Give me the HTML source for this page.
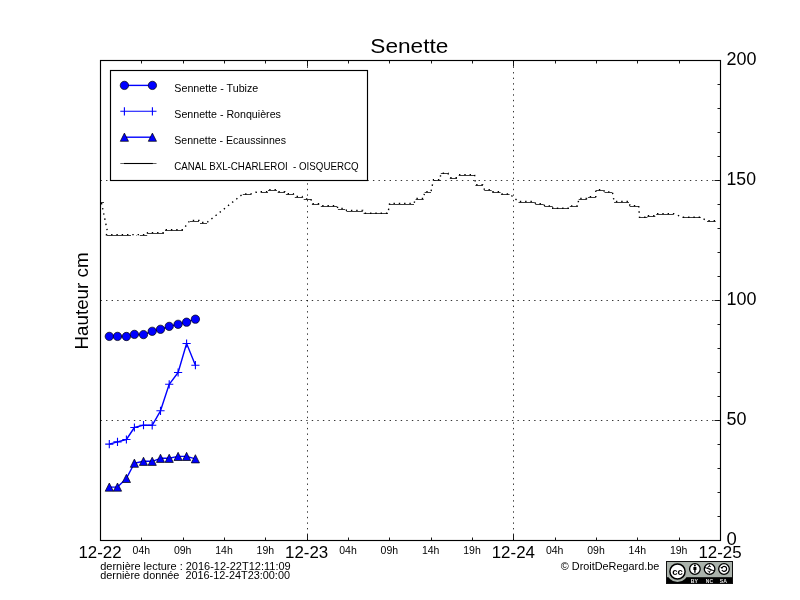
<!DOCTYPE html>
<html><head><meta charset="utf-8"><style>
html,body{margin:0;padding:0;background:#fff;width:800px;height:600px;overflow:hidden}
svg{display:block;will-change:transform}
text{font-family:"Liberation Sans", sans-serif}
</style></head><body>
<svg width="800" height="600" viewBox="0 0 800 600">
<rect width="800" height="600" fill="#fff"/>
<path d="M100.5,420.5H720.5 M100.5,300.5H720.5 M100.5,180.5H720.5 M307.5,540.5V60.5 M513.5,540.5V60.5" stroke="#000" stroke-width="0.8" stroke-dasharray="1.39 4.17" fill="none"/>
<path d="M100.5,540.5v-6 M100.5,60.5v6 M141.5,540.5v-3 M141.5,60.5v3 M183.5,540.5v-3 M183.5,60.5v3 M224.5,540.5v-3 M224.5,60.5v3 M265.5,540.5v-3 M265.5,60.5v3 M307.5,540.5v-6 M307.5,60.5v6 M348.5,540.5v-3 M348.5,60.5v3 M389.5,540.5v-3 M389.5,60.5v3 M431.5,540.5v-3 M431.5,60.5v3 M472.5,540.5v-3 M472.5,60.5v3 M513.5,540.5v-6 M513.5,60.5v6 M555.5,540.5v-3 M555.5,60.5v3 M596.5,540.5v-3 M596.5,60.5v3 M637.5,540.5v-3 M637.5,60.5v3 M679.5,540.5v-3 M679.5,60.5v3 M720.5,540.5v-6 M720.5,60.5v6 M720.5,540.5h-6 M720.5,516.5h-3 M720.5,492.5h-3 M720.5,468.5h-3 M720.5,444.5h-3 M720.5,420.5h-6 M720.5,396.5h-3 M720.5,372.5h-3 M720.5,348.5h-3 M720.5,324.5h-3 M720.5,300.5h-6 M720.5,276.5h-3 M720.5,252.5h-3 M720.5,228.5h-3 M720.5,204.5h-3 M720.5,180.5h-6 M720.5,156.5h-3 M720.5,132.5h-3 M720.5,108.5h-3 M720.5,84.5h-3 M720.5,60.5h-6" stroke="#000" stroke-width="0.9" fill="none"/>
<path d="M100,202.5H104 M106.5,235.5H131 M136,235.5H136.5 M139.8,235.5H147.2 M147.5,233.5H164 M165,230.5H183 M190,221.5H199 M200,223.5H207 M242.8,194.5H250.9 M256,192.5H257 M260.7,192.5H268 M268,190.5H277 M277.7,192.5H285 M285.9,194.5H293.2 M294.8,197.5H302 M303.7,199.5H311 M311.9,204.5H319.2 M320.8,206.5H337 M337.9,209.5H345.2 M346.5,211.5H362.8 M363.6,213.5H388 M389.6,204.5H414 M415.6,199.5H423.7 M424.6,192.5H431 M433.5,180.5H440 M440.8,173.5H448 M449.8,178.5H457 M458.7,175.5H474.6 M475.4,185.5H482.8 M484.4,190.5H491.7 M492.5,192.5H500.6 M501.5,194.5H509.6 M518.5,202.5H534.8 M535.6,204.5H543.7 M544.6,206.5H552.7 M552.7,208.5H569 M569.8,206.5H577.9 M578.7,199.5H586.8 M587.9,197.5H595.8 M595.8,190.5H603.6 M604.5,192.5H612.4 M614.1,202.5H629 M629.9,206.5H638.7 M639.5,217.5H647.4 M647.4,216.5H655.3 M656.2,214.5H673.7 M682.5,217.5H700.8 M707,221.5H715.7" stroke="#000" stroke-width="0.9" fill="none" stroke-opacity="0.85"/>
<path d="M101.5,203.5 L107.5,232.5 L106.5,235.2 L131.0,235.2 L136.0,235.2 L136.5,235.2 L139.8,235.2 L147.2,235.2 L147.5,233.2 L164.0,233.2 L165.0,230.3 L183.0,230.3 L190.0,221.0 L199.0,221.0 L200.0,223.1 L207.0,223.1 L242.8,194.6 L250.9,194.6 L256.0,192.7 L257.0,192.7 L260.7,192.2 L268.0,192.2 L268.0,190.2 L277.0,190.2 L277.7,192.2 L285.0,192.2 L285.9,194.3 L293.2,194.3 L294.8,197.1 L302.0,197.1 L303.7,199.5 L311.0,199.5 L311.9,204.4 L319.2,204.4 L320.8,206.3 L337.0,206.3 L337.9,209.1 L345.2,209.1 L346.5,211.0 L362.8,211.0 L363.6,213.8 L388.0,213.8 L389.6,204.0 L414.0,204.0 L415.6,199.1 L423.7,199.1 L424.6,192.2 L431.0,192.2 L433.5,180.4 L440.0,180.4 L440.8,173.8 L448.0,173.8 L449.8,178.3 L457.0,178.3 L458.7,175.2 L474.6,175.2 L475.4,185.3 L482.8,185.3 L484.4,190.2 L491.7,190.2 L492.5,192.3 L500.6,192.3 L501.5,194.6 L509.6,194.6 L518.5,202.1 L534.8,202.1 L535.6,204.3 L543.7,204.3 L544.6,206.5 L552.7,206.5 L552.7,208.9 L569.0,208.9 L569.8,206.5 L577.9,206.5 L578.7,199.1 L586.8,199.1 L587.9,197.2 L595.8,197.2 L595.8,190.4 L603.6,190.4 L604.5,192.5 L612.4,192.5 L614.1,202.1 L629.0,202.1 L629.9,206.2 L638.7,206.2 L639.5,217.9 L647.4,217.9 L647.4,216.3 L655.3,216.3 L656.2,214.2 L673.7,214.2 L682.5,217.9 L700.8,217.9 L707.0,221.4 L715.7,221.4" stroke="#000" stroke-width="1.4" fill="none" stroke-dasharray="1.4 3.9" transform="translate(0,-0.6)"/>
<path d="M109.3,336.4 L117.5,336.4 L126.4,336.5 L134.4,334.4 L143.5,334.6 L152.2,331.3 L160.5,329.3 L169.2,326.4 L178.1,324.3 L186.6,322.2 L195.4,319.2" stroke="#0000ff" stroke-width="1.39" fill="none" stroke-linejoin="round"/>
<path d="M109.3,444.1 L117.5,441.9 L126.4,439.5 L134.4,427.5 L143.5,425.2 L152.2,425.3 L160.5,410.8 L169.2,384.3 L178.1,372.5 L186.6,343.5 L195.4,365.2" stroke="#0000ff" stroke-width="1.39" fill="none" stroke-linejoin="round"/>
<path d="M109.3,487.1 L117.5,487.1 L126.4,478.4 L134.4,463.2 L143.5,461.3 L152.2,461.3 L160.5,458.3 L169.2,458.3 L178.1,456.4 L186.6,456.4 L195.4,458.8" stroke="#0000ff" stroke-width="1.39" fill="none" stroke-linejoin="round"/>
<circle cx="109.3" cy="336.4" r="4.17" fill="#0000ff" stroke="#000" stroke-width="0.7"/>
<circle cx="117.5" cy="336.4" r="4.17" fill="#0000ff" stroke="#000" stroke-width="0.7"/>
<circle cx="126.4" cy="336.5" r="4.17" fill="#0000ff" stroke="#000" stroke-width="0.7"/>
<circle cx="134.4" cy="334.4" r="4.17" fill="#0000ff" stroke="#000" stroke-width="0.7"/>
<circle cx="143.5" cy="334.6" r="4.17" fill="#0000ff" stroke="#000" stroke-width="0.7"/>
<circle cx="152.2" cy="331.3" r="4.17" fill="#0000ff" stroke="#000" stroke-width="0.7"/>
<circle cx="160.5" cy="329.3" r="4.17" fill="#0000ff" stroke="#000" stroke-width="0.7"/>
<circle cx="169.2" cy="326.4" r="4.17" fill="#0000ff" stroke="#000" stroke-width="0.7"/>
<circle cx="178.1" cy="324.3" r="4.17" fill="#0000ff" stroke="#000" stroke-width="0.7"/>
<circle cx="186.6" cy="322.2" r="4.17" fill="#0000ff" stroke="#000" stroke-width="0.7"/>
<circle cx="195.4" cy="319.2" r="4.17" fill="#0000ff" stroke="#000" stroke-width="0.7"/>
<path d="M105.2,444.1h8.2 M109.3,440.0v8.2 M113.4,441.9h8.2 M117.5,437.79999999999995v8.2 M122.30000000000001,439.5h8.2 M126.4,435.4v8.2 M130.3,427.5h8.2 M134.4,423.4v8.2 M139.4,425.2h8.2 M143.5,421.09999999999997v8.2 M148.1,425.3h8.2 M152.2,421.2v8.2 M156.4,410.8h8.2 M160.5,406.7v8.2 M165.1,384.3h8.2 M169.2,380.2v8.2 M174.0,372.5h8.2 M178.1,368.4v8.2 M182.5,343.5h8.2 M186.6,339.4v8.2 M191.3,365.2h8.2 M195.4,361.09999999999997v8.2" stroke="#0000ff" stroke-width="1.1" fill="none"/>
<path d="M109.3,483.0 L113.39999999999999,491.20000000000005 L105.2,491.20000000000005Z" fill="#0000ff" stroke="#000" stroke-width="0.7"/>
<path d="M117.5,483.0 L121.6,491.20000000000005 L113.4,491.20000000000005Z" fill="#0000ff" stroke="#000" stroke-width="0.7"/>
<path d="M126.4,474.29999999999995 L130.5,482.5 L122.30000000000001,482.5Z" fill="#0000ff" stroke="#000" stroke-width="0.7"/>
<path d="M134.4,459.09999999999997 L138.5,467.3 L130.3,467.3Z" fill="#0000ff" stroke="#000" stroke-width="0.7"/>
<path d="M143.5,457.2 L147.6,465.40000000000003 L139.4,465.40000000000003Z" fill="#0000ff" stroke="#000" stroke-width="0.7"/>
<path d="M152.2,457.2 L156.29999999999998,465.40000000000003 L148.1,465.40000000000003Z" fill="#0000ff" stroke="#000" stroke-width="0.7"/>
<path d="M160.5,454.2 L164.6,462.40000000000003 L156.4,462.40000000000003Z" fill="#0000ff" stroke="#000" stroke-width="0.7"/>
<path d="M169.2,454.2 L173.29999999999998,462.40000000000003 L165.1,462.40000000000003Z" fill="#0000ff" stroke="#000" stroke-width="0.7"/>
<path d="M178.1,452.29999999999995 L182.2,460.5 L174.0,460.5Z" fill="#0000ff" stroke="#000" stroke-width="0.7"/>
<path d="M186.6,452.29999999999995 L190.7,460.5 L182.5,460.5Z" fill="#0000ff" stroke="#000" stroke-width="0.7"/>
<path d="M195.4,454.7 L199.5,462.90000000000003 L191.3,462.90000000000003Z" fill="#0000ff" stroke="#000" stroke-width="0.7"/>
<rect x="100.5" y="60.5" width="620" height="480" fill="none" stroke="#000" stroke-width="1.15"/>
<rect x="110.5" y="70.5" width="257" height="110" fill="#fff" stroke="#000" stroke-width="1.15"/>
<path d="M124.4,85.4H152.4" stroke="#0000ff" stroke-width="1.39"/>
<circle cx="124.4" cy="85.4" r="4.17" fill="#0000ff" stroke="#000" stroke-width="0.7"/>
<circle cx="152.4" cy="85.4" r="4.17" fill="#0000ff" stroke="#000" stroke-width="0.7"/>
<path d="M120.3,111.3H156.5 M124.4,107.2v8.2 M152.4,107.2v8.2" stroke="#0000ff" stroke-width="1.1"/>
<path d="M124.4,137.2H152.4" stroke="#0000ff" stroke-width="1.39"/>
<path d="M124.4,133.1 L128.5,141.29999999999998 L120.30000000000001,141.29999999999998Z" fill="#0000ff" stroke="#000" stroke-width="0.7"/>
<path d="M152.4,133.1 L156.5,141.29999999999998 L148.3,141.29999999999998Z" fill="#0000ff" stroke="#000" stroke-width="0.7"/>
<path d="M120.3,163.5H156.5" stroke="#000" stroke-width="0.6"/>
<path d="M124,163.5H152.8" stroke="#000" stroke-width="1.1"/>
<text x="174.3" y="91.7" font-size="10.6" text-anchor="start" textLength="84" lengthAdjust="spacingAndGlyphs" >Sennette - Tubize</text>
<text x="174.3" y="118.0" font-size="10.6" text-anchor="start" textLength="106.6" lengthAdjust="spacingAndGlyphs" >Sennette - Ronquières</text>
<text x="174.3" y="143.9" font-size="10.6" text-anchor="start" textLength="111.7" lengthAdjust="spacingAndGlyphs" >Sennette - Ecaussinnes</text>
<text x="174.3" y="169.8" font-size="10.6" text-anchor="start" textLength="184.3" lengthAdjust="spacingAndGlyphs" >CANAL BXL-CHARLEROI&#160; - OISQUERCQ</text>
<text x="409.3" y="53.2" font-size="20.9" text-anchor="middle" textLength="78" lengthAdjust="spacingAndGlyphs" >Senette</text>
<text x="726.5" y="65.2" font-size="18.6" text-anchor="start" textLength="30" lengthAdjust="spacingAndGlyphs" >200</text>
<text x="726.5" y="185.2" font-size="18.6" text-anchor="start" textLength="29.5" lengthAdjust="spacingAndGlyphs" >150</text>
<text x="726.5" y="305.2" font-size="18.6" text-anchor="start" textLength="30" lengthAdjust="spacingAndGlyphs" >100</text>
<text x="726.5" y="425.2" font-size="18.6" text-anchor="start" textLength="20" lengthAdjust="spacingAndGlyphs" >50</text>
<text x="726.5" y="545.2" font-size="18.6" text-anchor="start" textLength="10.3" lengthAdjust="spacingAndGlyphs" >0</text>
<text x="0" y="0" font-size="18.6" text-anchor="middle" textLength="97" lengthAdjust="spacingAndGlyphs" transform="translate(88.4,301) rotate(-90)">Hauteur cm</text>
<text x="100.0" y="557.7" font-size="16.9" text-anchor="middle" >12-22</text>
<text x="141.33333333333334" y="553.8" font-size="10.5" text-anchor="middle" >04h</text>
<text x="182.66666666666669" y="553.8" font-size="10.5" text-anchor="middle" >09h</text>
<text x="224.0" y="553.8" font-size="10.5" text-anchor="middle" >14h</text>
<text x="265.33333333333337" y="553.8" font-size="10.5" text-anchor="middle" >19h</text>
<text x="306.66666666666663" y="557.7" font-size="16.9" text-anchor="middle" >12-23</text>
<text x="348.0" y="553.8" font-size="10.5" text-anchor="middle" >04h</text>
<text x="389.3333333333333" y="553.8" font-size="10.5" text-anchor="middle" >09h</text>
<text x="430.6666666666667" y="553.8" font-size="10.5" text-anchor="middle" >14h</text>
<text x="472.0" y="553.8" font-size="10.5" text-anchor="middle" >19h</text>
<text x="513.3333333333333" y="557.7" font-size="16.9" text-anchor="middle" >12-24</text>
<text x="554.6666666666667" y="553.8" font-size="10.5" text-anchor="middle" >04h</text>
<text x="596.0" y="553.8" font-size="10.5" text-anchor="middle" >09h</text>
<text x="637.3333333333334" y="553.8" font-size="10.5" text-anchor="middle" >14h</text>
<text x="678.6666666666666" y="553.8" font-size="10.5" text-anchor="middle" >19h</text>
<text x="720.0" y="557.7" font-size="16.9" text-anchor="middle" >12-25</text>
<text x="100.2" y="569.8" font-size="10.8" text-anchor="start" textLength="190.5" lengthAdjust="spacingAndGlyphs" >dernière lecture : 2016-12-22T12:11:09</text>
<text x="100.2" y="578.6" font-size="10.8" text-anchor="start" textLength="189.8" lengthAdjust="spacingAndGlyphs" >dernière donnée&#160; 2016-12-24T23:00:00</text>
<text x="560.8" y="569.7" font-size="11.3" text-anchor="start" textLength="98.5" lengthAdjust="spacingAndGlyphs" >© DroitDeRegard.be</text>
<rect x="666.5" y="561.5" width="66" height="22" fill="#aab2ab"/>
<rect x="666" y="577.2" width="67" height="6.8" fill="#000"/>
<circle cx="677.5" cy="571.5" r="10.6" fill="#aab2ab"/>
<circle cx="677.5" cy="571.5" r="7.6" fill="#fff" stroke="#000" stroke-width="1.5"/>
<text x="677.6" y="574.6" font-size="9.8" font-weight="bold" text-anchor="middle" fill="#000" textLength="10.6" lengthAdjust="spacingAndGlyphs">cc</text>
<circle cx="694.9" cy="569" r="5.3" fill="#fff" stroke="#000" stroke-width="1.3"/>
<circle cx="709.6" cy="569" r="5.3" fill="#fff" stroke="#000" stroke-width="1.3"/>
<circle cx="724" cy="569" r="5.3" fill="#fff" stroke="#000" stroke-width="1.3"/>
<circle cx="694.9" cy="565.6" r="1" fill="#000"/>
<path d="M693.4,567.1h3v3h-0.8v2.6h-1.4v-2.6h-0.8z" fill="#000"/>
<path d="M704,567.2L715,571.2" stroke="#000" stroke-width="1"/>
<path d="M711,566.8c-0.6,-0.6 -3.4,-0.8 -3.2,0.8c0.2,1.2 3.3,1 3.3,2.6c0,1.6 -2.8,1.4 -3.5,0.7M709.4,564.6v1.4M709.4,571.6v1.6" stroke="#000" stroke-width="0.9" fill="none"/>
<path d="M721.8,568a2.5,2.5 0 1 1 0.1,2" stroke="#000" stroke-width="1.2" fill="none"/>
<path d="M720.4,566.9l1.5,2.2l1.4,-2.2z" fill="#000"/>
<text x="694.4" y="582.6" font-size="5.4" font-weight="bold" text-anchor="middle" fill="#e8e8e8" textLength="7.2" lengthAdjust="spacingAndGlyphs">BY</text>
<text x="709.4" y="582.6" font-size="5.4" font-weight="bold" text-anchor="middle" fill="#e8e8e8" textLength="7.2" lengthAdjust="spacingAndGlyphs">NC</text>
<text x="723.4" y="582.6" font-size="5.4" font-weight="bold" text-anchor="middle" fill="#e8e8e8" textLength="7.2" lengthAdjust="spacingAndGlyphs">SA</text>
<rect x="666.5" y="561.5" width="66" height="22" fill="none" stroke="#111" stroke-width="1"/>
</svg>
</body></html>
